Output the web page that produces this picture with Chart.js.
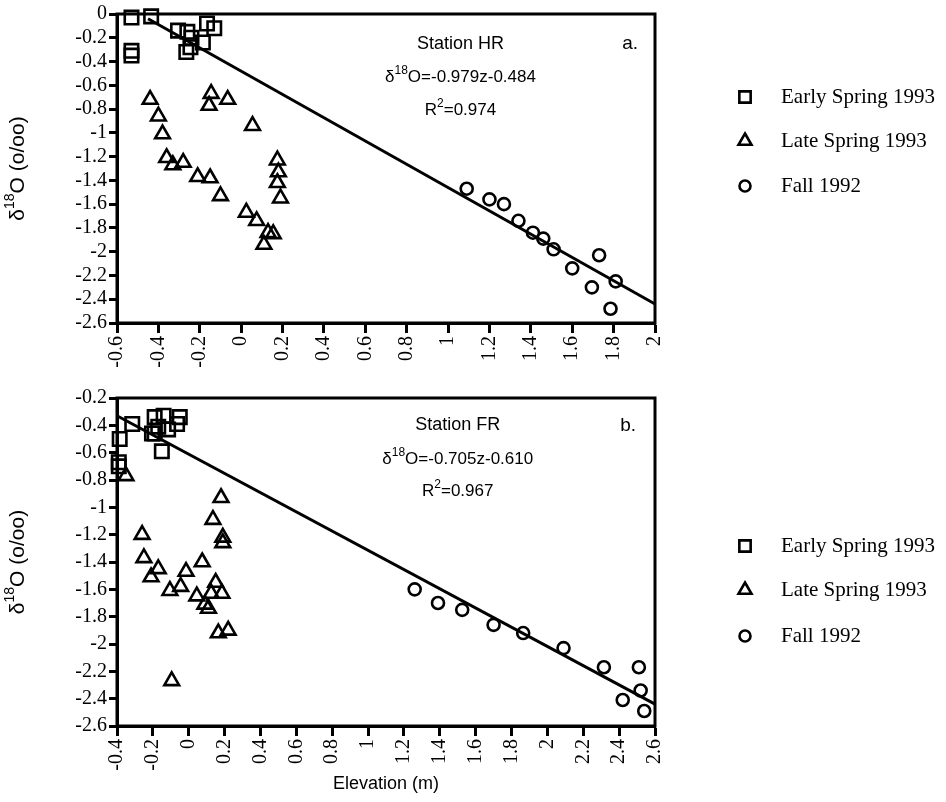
<!DOCTYPE html>
<html>
<head>
<meta charset="utf-8">
<script src="https://cdn.jsdelivr.net/npm/chart.js@4/dist/chart.umd.min.js"></script>
<style>
  html, body { margin: 0; padding: 0; background: #fff; }
  #wrap { position: relative; width: 946px; height: 802px; }
  .panel { position: absolute; left: 0; width: 946px; }
</style>
</head>
<body>
<div id="wrap">
  <div class="panel" style="top:0;height:384px"><canvas id="chartHR"></canvas></div>
  <div class="panel" style="top:384px;height:418px"><canvas id="chartFR"></canvas></div>
</div>
<script>
// ---- Station HR (panel a.) : [elevation, d18O]
const hrEarlySpring = [
  [-0.53, -0.03], [-0.435, -0.02], [-0.53, -0.31], [-0.53, -0.35],
  [-0.305, -0.14], [-0.26, -0.15], [-0.165, -0.08], [-0.13, -0.12],
  [-0.24, -0.2], [-0.185, -0.24], [-0.265, -0.32], [-0.245, -0.28]
];
const hrLateSpring = [
  [-0.44, -0.72], [-0.40, -0.86], [-0.38, -1.01], [-0.36, -1.21], [-0.33, -1.27],
  [-0.28, -1.25], [-0.21, -1.37], [-0.15, -1.38], [-0.10, -1.53], [-0.145, -0.67],
  [-0.155, -0.77], [-0.065, -0.72], [0.055, -0.94], [0.025, -1.67], [0.075, -1.74],
  [0.13, -1.84], [0.155, -1.85], [0.11, -1.94], [0.175, -1.23], [0.18, -1.33],
  [0.175, -1.42], [0.19, -1.55]
];
const hrFall = [
  [1.09, -1.47], [1.2, -1.56], [1.27, -1.6], [1.34, -1.74], [1.41, -1.84], [1.46, -1.89],
  [1.51, -1.98], [1.6, -2.14], [1.73, -2.03], [1.695, -2.3], [1.81, -2.25], [1.785, -2.48]
];
const hrFitLine = [[-0.45, -0.04], [2, -2.44]];

// ---- Station FR (panel b.)
const frEarlySpring = [
  [-0.385, -0.5], [-0.39, -0.67], [-0.39, -0.7], [-0.315, -0.39], [-0.19, -0.34],
  [-0.14, -0.33], [-0.05, -0.34], [-0.065, -0.39], [-0.205, -0.46], [-0.15, -0.59],
  [-0.17, -0.41], [-0.115, -0.43], [-0.19, -0.46]
];
const frLateSpring = [
  [-0.35, -0.77], [0.18, -0.93], [0.135, -1.09], [-0.26, -1.2], [0.19, -1.22],
  [0.19, -1.26], [-0.25, -1.37], [-0.17, -1.45], [-0.21, -1.51], [-0.105, -1.61],
  [-0.045, -1.58], [-0.015, -1.47], [0.075, -1.4], [0.045, -1.65], [0.09, -1.71],
  [0.11, -1.74], [0.15, -1.55], [0.125, -1.63], [0.185, -1.63], [0.165, -1.92],
  [0.22, -1.9], [-0.095, -2.27]
];
const frFall = [
  [1.26, -1.6], [1.39, -1.7], [1.525, -1.75], [1.7, -1.86], [1.865, -1.92], [2.09, -2.03],
  [2.315, -2.17], [2.51, -2.17], [2.52, -2.34], [2.42, -2.41], [2.54, -2.49]
];
const frFitLine = [[-0.4, -0.33], [2.6, -2.44]];

const seriesNames = ["Early Spring 1993", "Late Spring 1993", "Fall 1992"];

const SERIF = "'Liberation Serif', 'Times New Roman', serif";
const SANS = "'Liberation Sans', Arial, sans-serif";

const toPts = arr => arr.map(p => ({ x: p[0], y: p[1] }));
const fmt = v => String(Math.round(v * 10) / 10);

// draw text with superscript parts: parts = [[text, isSup], ...]
function drawRich(ctx, x, y, parts, size, family, align) {
  let w = 0;
  parts.forEach(([t, sup]) => {
    ctx.font = (sup ? Math.round(size * 0.68) : size) + "px " + family;
    w += ctx.measureText(t).width;
  });
  let cx = align === "center" ? x - w / 2 : x;
  ctx.textBaseline = "middle";
  ctx.textAlign = "left";
  parts.forEach(([t, sup]) => {
    ctx.font = (sup ? Math.round(size * 0.68) : size) + "px " + family;
    ctx.fillText(t, cx, sup ? y - size * 0.38 : y);
    cx += ctx.measureText(t).width;
  });
}

const legendMarks = [
  { pointStyle: "rect", radius: 8 },
  { pointStyle: "triangle", radius: 7.5 },
  { pointStyle: "circle", radius: 5.5 }
];

const extrasPlugin = {
  id: "extras",
  afterDraw(chart, args, opts) {
    const ctx = chart.ctx;
    const a = chart.chartArea;
    const xs = chart.scales.x, ys = chart.scales.y;
    ctx.save();
    ctx.fillStyle = "#000";
    ctx.strokeStyle = "#000";
    // frame
    ctx.lineWidth = 3;
    ctx.strokeRect(a.left, a.top, a.right - a.left, a.bottom - a.top);

    // station text
    const nx = xs.getPixelForValue(opts.noteX);
    drawRich(ctx, nx, ys.getPixelForValue(opts.noteY[0]), [[opts.station, false]], 18, SANS, "center");
    drawRich(ctx, nx, ys.getPixelForValue(opts.noteY[1]),
      [["\u03b4", false], ["18", true], ["O=" + opts.equation, false]], 17, SANS, "center");
    drawRich(ctx, nx, ys.getPixelForValue(opts.noteY[2]),
      [["R", false], ["2", true], ["=" + opts.r2, false]], 17, SANS, "center");
    drawRich(ctx, xs.getPixelForValue(opts.tagX), ys.getPixelForValue(opts.noteY[0]),
      [[opts.tag, false]], 19, SANS, "center");

    // y axis title
    ctx.save();
    ctx.translate(18, (a.top + a.bottom) / 2);
    ctx.rotate(-Math.PI / 2);
    drawRich(ctx, 0, 0, [["\u03b4", false], ["18", true], ["O (o/oo)", false]], 21, SANS, "center");
    ctx.restore();

    // x axis title
    if (opts.xTitle) {
      drawRich(ctx, (a.left + a.right) / 2, opts.xTitleY, [[opts.xTitle, false]], 18, SANS, "center");
    }

    // legend
    opts.legendY.forEach((ly, i) => {
      ctx.lineWidth = 2.6;
      ctx.fillStyle = "rgba(0,0,0,0)";
      Chart.helpers.drawPoint(ctx, { pointStyle: legendMarks[i].pointStyle, radius: legendMarks[i].radius, rotation: 0, borderWidth: 2.6 }, 745, ly);
      ctx.fillStyle = "#000";
      drawRich(ctx, 781, ly, [[seriesNames[i], false]], 21, SERIF, "left");
    });
    ctx.restore();
  }
};

function makeChart(id, series, fit, xMin, xMax, yMin, yMax, xAxisHeight, extras) {
  const styles = [
    { pointStyle: "rect", pointRadius: 9.5 },
    { pointStyle: "triangle", pointRadius: 8.5 },
    { pointStyle: "circle", pointRadius: 6 }
  ];
  const datasets = series.map((s, i) => ({
    label: seriesNames[i],
    data: toPts(s),
    pointStyle: styles[i].pointStyle,
    pointRadius: styles[i].pointRadius,
    pointBorderWidth: 2.6,
    pointBorderColor: "#000",
    pointBackgroundColor: "rgba(0,0,0,0)",
    showLine: false,
    clip: false
  }));
  datasets.push({
    label: "fit",
    data: toPts(fit),
    showLine: true,
    borderColor: "#000",
    borderWidth: 3,
    pointRadius: 0,
    clip: false
  });

  return new Chart(document.getElementById(id), {
    type: "scatter",
    data: { datasets: datasets },
    options: {
      responsive: true,
      maintainAspectRatio: false,
      animation: false,
      layout: { padding: { top: 14, right: 291, left: 0, bottom: 0 } },
      plugins: {
        legend: { display: false },
        tooltip: { enabled: false },
        extras: extras
      },
      scales: {
        x: {
          type: "linear",
          min: xMin,
          max: xMax,
          ticks: {
            stepSize: 0.2,
            autoSkip: false,
            minRotation: 90,
            maxRotation: 90,
            padding: 3,
            color: "#000",
            font: { family: SERIF, size: 20 },
            callback: fmt
          },
          grid: { drawOnChartArea: false, tickLength: 10, tickWidth: 3, tickColor: "#000" },
          border: { color: "#000", width: 3 },
          afterFit(s) { s.height = xAxisHeight; }
        },
        y: {
          type: "linear",
          min: yMin,
          max: yMax,
          ticks: {
            stepSize: 0.2,
            autoSkip: false,
            padding: 2,
            color: "#000",
            font: { family: SERIF, size: 20 },
            callback: fmt
          },
          grid: { drawOnChartArea: false, tickLength: 8, tickWidth: 3, tickColor: "#000" },
          border: { color: "#000", width: 3 },
          afterFit(s) { s.width = 117; }
        }
      }
    },
    plugins: [extrasPlugin]
  });
}

makeChart("chartHR", [hrEarlySpring, hrLateSpring, hrFall], hrFitLine, -0.6, 2, -2.6, 0, 61, {
  station: "Station HR", equation: "-0.979z-0.484", r2: "0.974", tag: "a.",
  noteX: 1.06, tagX: 1.88, noteY: [-0.25, -0.53, -0.81],
  legendY: [97, 141, 186]
});

makeChart("chartFR", [frEarlySpring, frLateSpring, frFall], frFitLine, -0.4, 2.6, -2.6, -0.2, 76, {
  station: "Station FR", equation: "-0.705z-0.610", r2: "0.967", tag: "b.",
  noteX: 1.5, tagX: 2.45, noteY: [-0.4, -0.645, -0.885],
  legendY: [162, 206, 252],
  xTitle: "Elevation (m)", xTitleY: 400
});
</script>
</body>
</html>
